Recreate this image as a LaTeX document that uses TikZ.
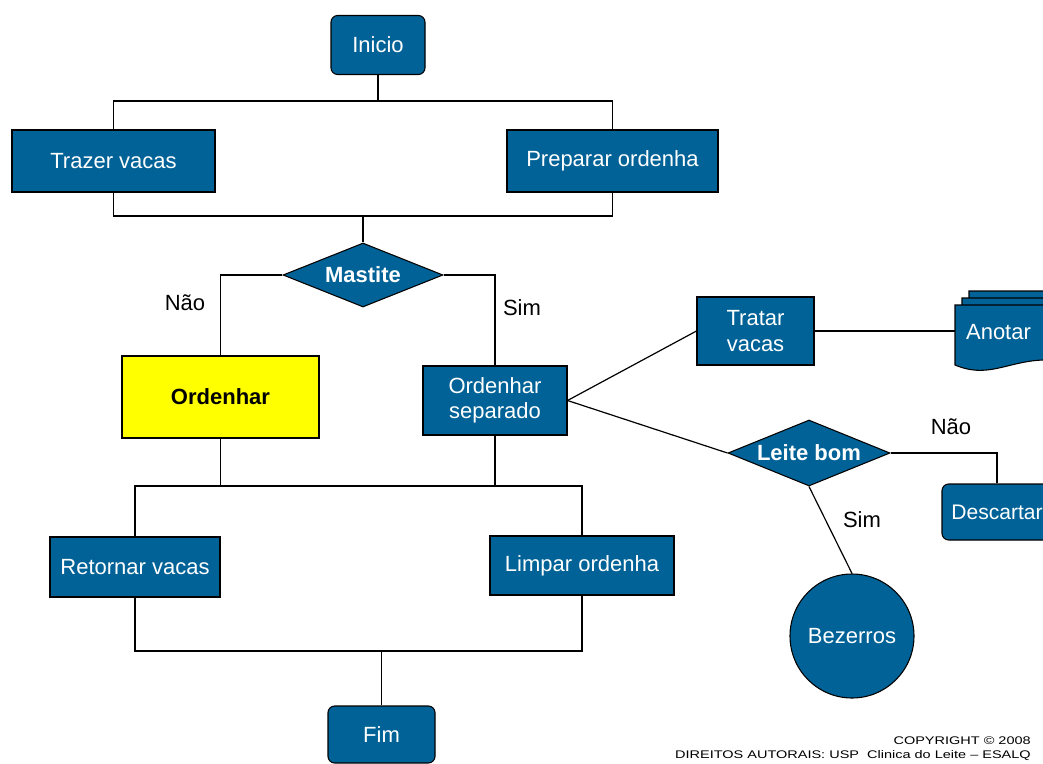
\documentclass[tikz,border=0pt]{standalone}
\usepackage{fontspec}
\setmainfont{Liberation Sans}
\usetikzlibrary{shapes.geometric}
\definecolor{myblue}{RGB}{0,98,150}
\definecolor{myyellow}{RGB}{255,255,0}
\begin{document}
\begin{tikzpicture}[x=0.75pt,y=-0.75pt,
  box/.style={draw=black, fill=myblue, text=white, inner sep=0pt, align=center,
    font=\fontsize{16.5}{19}\selectfont, line width=0.8pt},
  rbox/.style={box, rounded corners=5pt},
  dia/.style={diamond, aspect=2.5, draw=black, fill=myblue, text=white, inner sep=0pt,
    font=\bfseries\fontsize{16.5}{19}\selectfont, line width=0.8pt},
  lbl/.style={font=\fontsize{16.5}{19}\selectfont, inner sep=0pt},
  ln/.style={line width=0.9pt, draw=black}]
\useasboundingbox (0,0) rectangle (1043,764);
\clip (0,0) rectangle (1043,764);
\fill[white] (0,0) rectangle (1043,764);

% nodes
\node[rbox, minimum width=70.5pt, minimum height=44.25pt] (inicio) at (378,45) {Inicio};
\node[box, minimum width=152.25pt, minimum height=46.5pt] (trazer) at (113.5,161) {Trazer vacas};
\node[box, minimum width=158.25pt, minimum height=46.5pt] (preparar) at (612.5,161) {Preparar ordenha};
\node[dia, minimum width=120pt, minimum height=48pt] (mastite) at (363,275) {Mastite};
\node[box, fill=myyellow, text=black, font=\bfseries\fontsize{16.5}{19}\selectfont,
  minimum width=147.75pt, minimum height=61.5pt] (ordenhar) at (220.5,397) {Ordenhar};
\node[box, minimum width=108pt, minimum height=51.75pt] (separado) at (495,400.5) {Ordenhar\\separado};
\node[box, minimum width=127.5pt, minimum height=45pt] (retornar) at (135,567) {Retornar vacas};
\node[box, minimum width=138pt, minimum height=44.25pt] (limpar) at (582,565.5) {Limpar ordenha};
\node[rbox, minimum width=80.25pt, minimum height=42.75pt] (fim) at (381.5,734.5) {Fim};
\node[box, minimum width=87.75pt, minimum height=51pt] (tratar) at (755.5,331) {Tratar\\vacas};
\node[dia, minimum width=121.5pt, minimum height=49.5pt] (leite) at (809,453) {Leite bom};
\node[rbox, font=\fontsize{15.8}{19}\selectfont, minimum width=82.5pt, minimum height=42pt] (descartar) at (997,512) {Descartar};
\node[circle, draw=black, fill=myblue, text=white, inner sep=0pt, line width=0.8pt,
  font=\fontsize{16.5}{19}\selectfont, minimum size=93pt] (bezerros) at (852,636) {Bezerros};

% Anotar (multi-document)
\foreach \dx/\dy in {14/-14, 7/-7}{
  \draw[fill=myblue, line width=0.8pt] (955+\dx,305+\dy) -- (1070,305+\dy) -- (1070,362+\dy)
    .. controls (1010,350+\dy) and (990,380+\dy) .. (955+\dx,365+\dy) -- cycle;
}
\draw[fill=myblue, line width=0.8pt] (955,305) -- (1070,305) -- (1070,362)
  .. controls (1015,352) and (995,382) .. (955,365) -- cycle;
\node[text=white, font=\fontsize{16.5}{19}\selectfont, inner sep=0pt] (anotar) at (998.5,332) {Anotar};
\coordinate (anotarW) at (955,331);

% connectors
\draw[ln] (inicio.south) -- (inicio.south |- 0,101);
\draw[ln] (trazer.north) -- (trazer.north |- 0,101) -- (preparar.north |- 0,101) -- (preparar.north);
\draw[ln] (trazer.south) -- (trazer.south |- 0,216) -- (preparar.south |- 0,216) -- (preparar.south);
\draw[ln] (mastite.north) -- (mastite.north |- 0,216);
\draw[ln] (mastite.west) -| (ordenhar.north);
\draw[ln] (mastite.east) -| (separado.north);
\draw[ln] (ordenhar.south) -- (ordenhar.south |- 0,486);
\draw[ln] (separado.south) -- (separado.south |- 0,486);
\draw[ln] (retornar.north) -- (retornar.north |- 0,486) -- (limpar.north |- 0,486) -- (limpar.north);
\draw[ln] (retornar.south) -- (retornar.south |- 0,651) -- (limpar.south |- 0,651) -- (limpar.south);
\draw[ln] (fim.north) -- (fim.north |- 0,651);
\draw[ln] (separado.east) -- (tratar.west);
\draw[ln] (separado.east) -- (leite.west);
\draw[ln] (tratar.east) -- (anotarW);
\draw[ln] (leite.east) -| (descartar.north);
\draw[ln] (leite.south) -- (bezerros.north);

% labels
\node[lbl] (nao1) at (185,303) {Não};
\node[lbl] (sim1) at (522,308) {Sim};
\node[lbl] (nao2) at (951,427) {Não};
\node[lbl] (sim2) at (862,520) {Sim};

\node[anchor=east, inner sep=0pt, font=\fontsize{8.3}{9}\selectfont] (copy1) at (1031,741)
  {\scalebox{1.31}[1]{COPYRIGHT © 2008}};
\node[anchor=east, inner sep=0pt, font=\fontsize{8.3}{9}\selectfont] (copy2) at (1031,756)
  {\scalebox{1.31}[1]{DIREITOS AUTORAIS: USP\ \ Clinica do Leite – ESALQ}};
\end{tikzpicture}
\end{document}
